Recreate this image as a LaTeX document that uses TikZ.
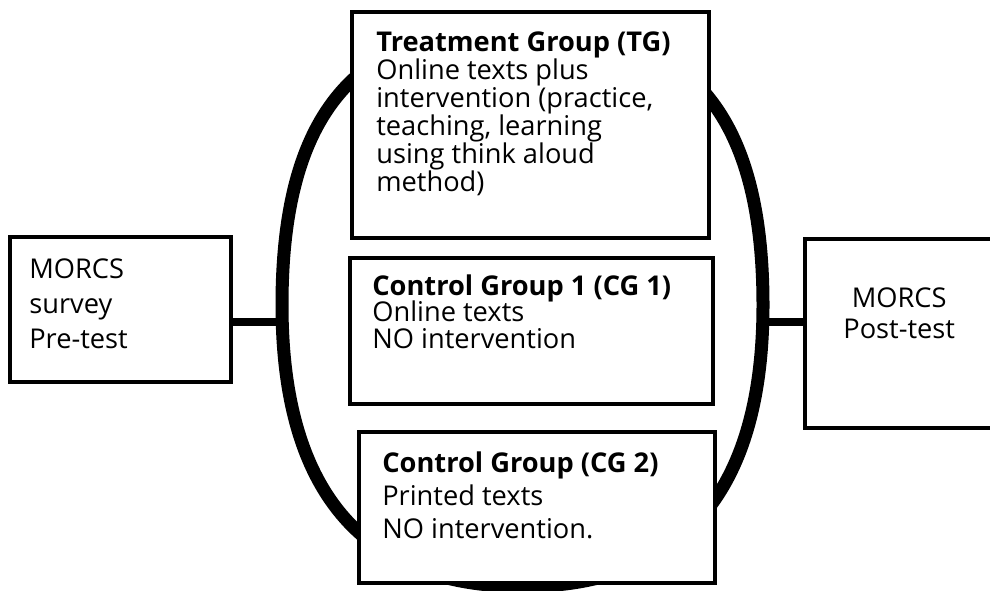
\documentclass[tikz,border=0pt]{standalone}
\usepackage{fontspec}
\setmainfont{Open Sans}
\usetikzlibrary{positioning}
\newcommand{\grpfont}[1]{\fontsize{15.5}{#1}\selectfont\lineskiplimit=-20pt\relax}

\begin{document}
\begin{tikzpicture}[
    x=0.02cm, y=-0.02cm,
    box/.style={rectangle, draw=black, line width=2.4pt, fill=white,
                inner sep=0pt, outer sep=0pt, anchor=north west},
    txt/.style={align=left, inner sep=0pt, anchor=north west},
    link/.style={line width=4.5pt},
    ring/.style={line width=7.4pt}
]
\useasboundingbox (0,0) rectangle (990,591);

% Oval round the three groups
\draw[ring] (763,305) .. controls (763,498) and (676,586.5) .. (522.5,586.5)
    .. controls (369,586.5) and (282,498) .. (282,305)
    .. controls (282,112.4) and (357,25) .. (522.5,25)
    .. controls (688,25) and (763,112.4) .. cycle;
\coordinate (ovalW) at (284,322);
\coordinate (ovalE) at (761,322);

% Tests
\node[box, minimum width=4.42cm, minimum height=2.9cm]  (pre)  at (10,237) {};
\node[box, minimum width=3.9cm,  minimum height=3.78cm] (post) at (805,239) {};

% Links
\draw[link] (pre.east |- ovalW) -- (ovalW);
\draw[link] (ovalE) -- (ovalE -| post.west);

% Groups
\node[box, minimum width=7.14cm, minimum height=4.52cm] (tg)  at (352,12)  {};
\node[box, minimum width=7.26cm, minimum height=2.92cm] (cg1) at (350,258) {};
\node[box, minimum width=7.12cm, minimum height=3.02cm] (cg2) at (359,432) {};

% Texts
\node[txt, font=\grpfont{19.9pt}, below right=0.42cm and 0.38cm of pre.north west] (pretext)
    {MORCS\\survey\\Pre-test};
\node[txt, align=center, font=\grpfont{17.6pt}, below right=0.96cm and 0.76cm of post.north west] (posttext)
    {MORCS\\Post-test};
\node[txt, font=\grpfont{15.9pt}, below right=0.39cm and 0.48cm of tg.north west] (tgtext)
    {\textbf{Treatment Group (TG)}\\Online texts plus\\intervention (practice,\\teaching, learning\\using think aloud\\method)};
\node[txt, font=\grpfont{15pt}, below right=0.33cm and 0.44cm of cg1.north west] (cg1text)
    {\textbf{Control Group 1 (CG 1)}\\Online texts\\NO intervention};
\node[txt, font=\grpfont{18.8pt}, below right=0.39cm and 0.46cm of cg2.north west] (cg2text)
    {\textbf{Control Group (CG 2)}\\Printed texts\\NO intervention.};

\end{tikzpicture}
\end{document}
